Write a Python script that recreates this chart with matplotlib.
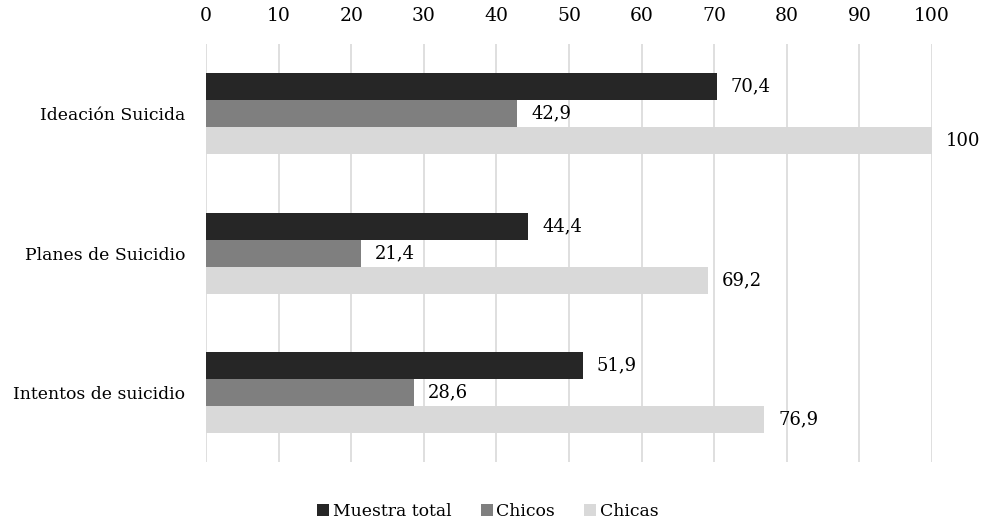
import matplotlib
matplotlib.use('Agg')
import matplotlib.pyplot as plt
import numpy as np

# data
categories = ['Ideación Suicida', 'Planes de Suicidio', 'Intentos de suicidio']
series_names = ['Muestra total', 'Chicos', 'Chicas']
muestra_total = [70.4, 44.4, 51.9]
chicos = [42.9, 21.4, 28.6]
chicas = [100, 69.2, 76.9]
colors = ['#262626', '#7f7f7f', '#d9d9d9']

plt.rcParams['font.family'] = ['DejaVu Serif']

fig = plt.figure(figsize=(9.81, 5.25), dpi=100)
ax = fig.add_axes([0.21, 0.12, 0.74, 0.796])

y = np.arange(len(categories))
h = 0.194
for i, (vals, name, c) in enumerate(zip([muestra_total, chicos, chicas], series_names, colors)):
    pos = y + (i - 1) * h
    ax.barh(pos, vals, height=h, color=c, label=name, zorder=2)
    for p, v in zip(pos, vals):
        txt = f'{v:g}'.replace('.', ',')
        ax.text(v + 1.9, p, txt, va='center', ha='left', fontsize=13, color='#000000')

ax.set_xlim(0, 100)
ax.set_ylim(2.5, -0.5)
ax.set_xticks(range(0, 101, 10))
ax.set_yticks(y)
ax.set_yticklabels(categories, fontsize=12.4)
ax.xaxis.tick_top()
ax.tick_params(axis='x', length=0, labelsize=13.5, pad=14)
ax.tick_params(axis='y', length=0, pad=15)
ax.grid(axis='x', color='#d9d9d9', linewidth=1.2, zorder=0)
ax.set_axisbelow(True)
for s in ax.spines.values():
    s.set_visible(False)

ax.legend(loc='upper center', bbox_to_anchor=(0.388, -0.062), ncol=3, frameon=False,
          fontsize=12.4, handlelength=0.7, handleheight=0.7, handletextpad=0.2, columnspacing=1.7)

plt.savefig('out.png', dpi=100)
